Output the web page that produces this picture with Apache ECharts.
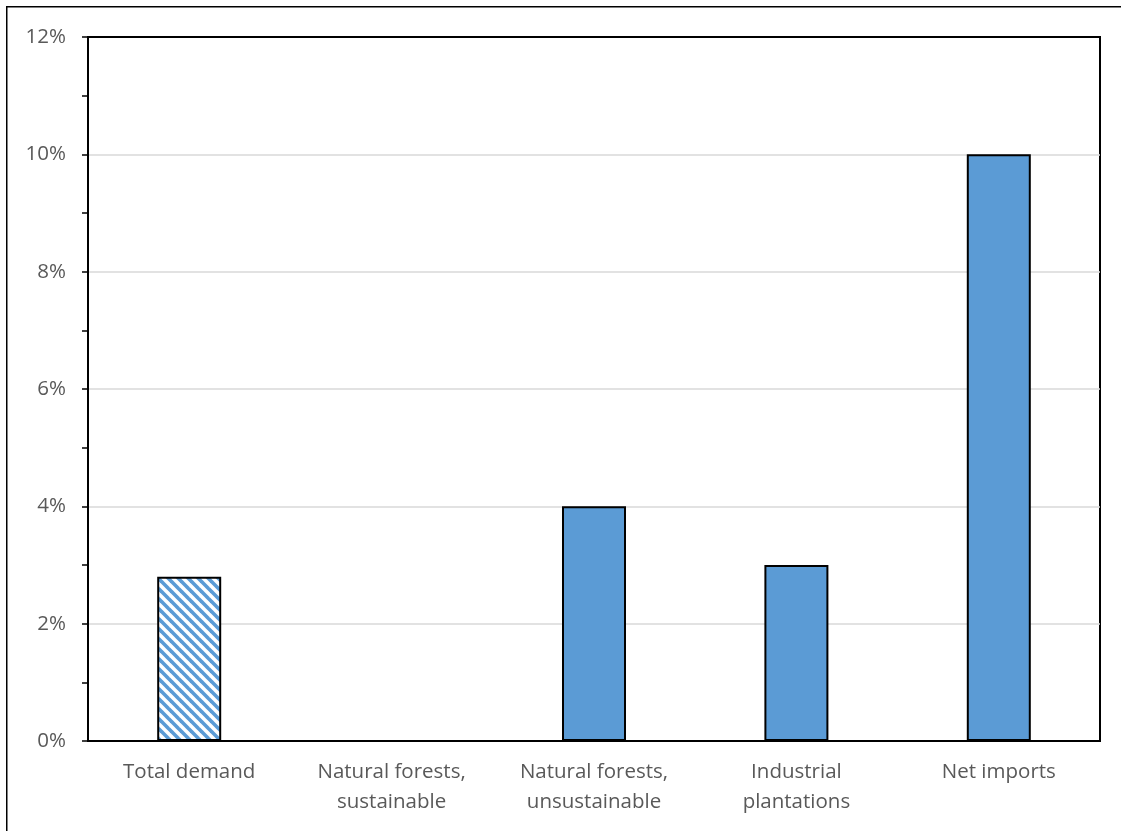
<!DOCTYPE html>
<html>
<head>
<meta charset="utf-8">
<style>
  html, body { margin: 0; padding: 0; background: #ffffff; }
  #chart { width: 1121px; height: 831px; }
</style>
<script src="https://cdn.jsdelivr.net/npm/echarts@6/dist/echarts.min.js"></script>
</head>
<body>
<div id="chart"></div>
<script>
// Growth rates of wood supply sources, in percent
const categories = [
  'Total demand',
  'Natural forests,\nsustainable',
  'Natural forests,\nunsustainable',
  'Industrial\nplantations',
  'Net imports'
];
const values = [2.8, 0, 4, 3, 10];
const hatchedCategories = ['Total demand'];
const yTicks = { min: 0, max: 12, interval: 2 };

const BLUE = '#5B9BD5';
const TEXT = '#595959';
const FONT = '"Open Sans", "Liberation Sans", sans-serif';

// Diagonal stripe tile ("\" direction) used as a repeating bar fill
function makeHatchTile(period, lineWidth, color) {
  const c = document.createElement('canvas');
  c.width = period;
  c.height = period;
  const ctx = c.getContext('2d');
  ctx.fillStyle = '#ffffff';
  ctx.fillRect(0, 0, period, period);
  ctx.strokeStyle = color;
  ctx.lineWidth = lineWidth;
  ctx.lineCap = 'square';
  for (let k = -2; k <= 2; k++) {
    ctx.beginPath();
    ctx.moveTo(k * period, 0);
    ctx.lineTo(k * period + period, period);
    ctx.stroke();
  }
  return c;
}
const hatch = { image: makeHatchTile(10, 3.6, BLUE), repeat: 'repeat' };

const chart = echarts.init(document.getElementById('chart'), null, { renderer: 'canvas' });

const seriesData = values.map((v, i) =>
  hatchedCategories.includes(categories[i])
    ? { value: v, itemStyle: { color: hatch } }
    : { value: v }
);

chart.setOption({
  animation: false,
  backgroundColor: '#ffffff',
  graphic: [{
    type: 'rect',
    shape: { x: 6.75, y: 6.75, width: 1300, height: 1000 },
    style: { fill: 'none', stroke: '#000000', lineWidth: 1.5 },
    silent: true,
    z: 100
  }],
  grid: {
    left: 88, right: 21, top: 37, bottom: 90,
    show: true,
    borderColor: '#000000',
    borderWidth: 2
  },
  xAxis: {
    type: 'category',
    data: categories,
    axisLine: { show: true, lineStyle: { color: '#000000', width: 2 } },
    axisTick: { show: false },
    axisLabel: {
      color: TEXT,
      fontFamily: FONT,
      fontSize: 20.5,
      lineHeight: 30,
      margin: 16,
      interval: 0
    }
  },
  yAxis: {
    type: 'value',
    min: yTicks.min,
    max: yTicks.max,
    interval: yTicks.interval,
    axisLine: { show: true, lineStyle: { color: '#000000', width: 2 } },
    axisTick: { show: true, length: 6, lineStyle: { color: '#000000', width: 1.5 } },
    minorTick: { show: true, splitNumber: 2, length: 6, lineStyle: { color: '#000000', width: 1.5 } },
    splitLine: {
      show: true,
      showMinLine: false,
      showMaxLine: false,
      lineStyle: { color: '#D9D9D9', width: 1.5 }
    },
    axisLabel: {
      color: TEXT,
      fontFamily: FONT,
      fontSize: 20.5,
      margin: 22,
      formatter: '{value}%'
    }
  },
  series: [{
    type: 'bar',
    data: seriesData,
    barWidth: 64,
    itemStyle: {
      color: BLUE,
      borderColor: '#000000',
      borderWidth: 2
    }
  }]
});
</script>
</body>
</html>
